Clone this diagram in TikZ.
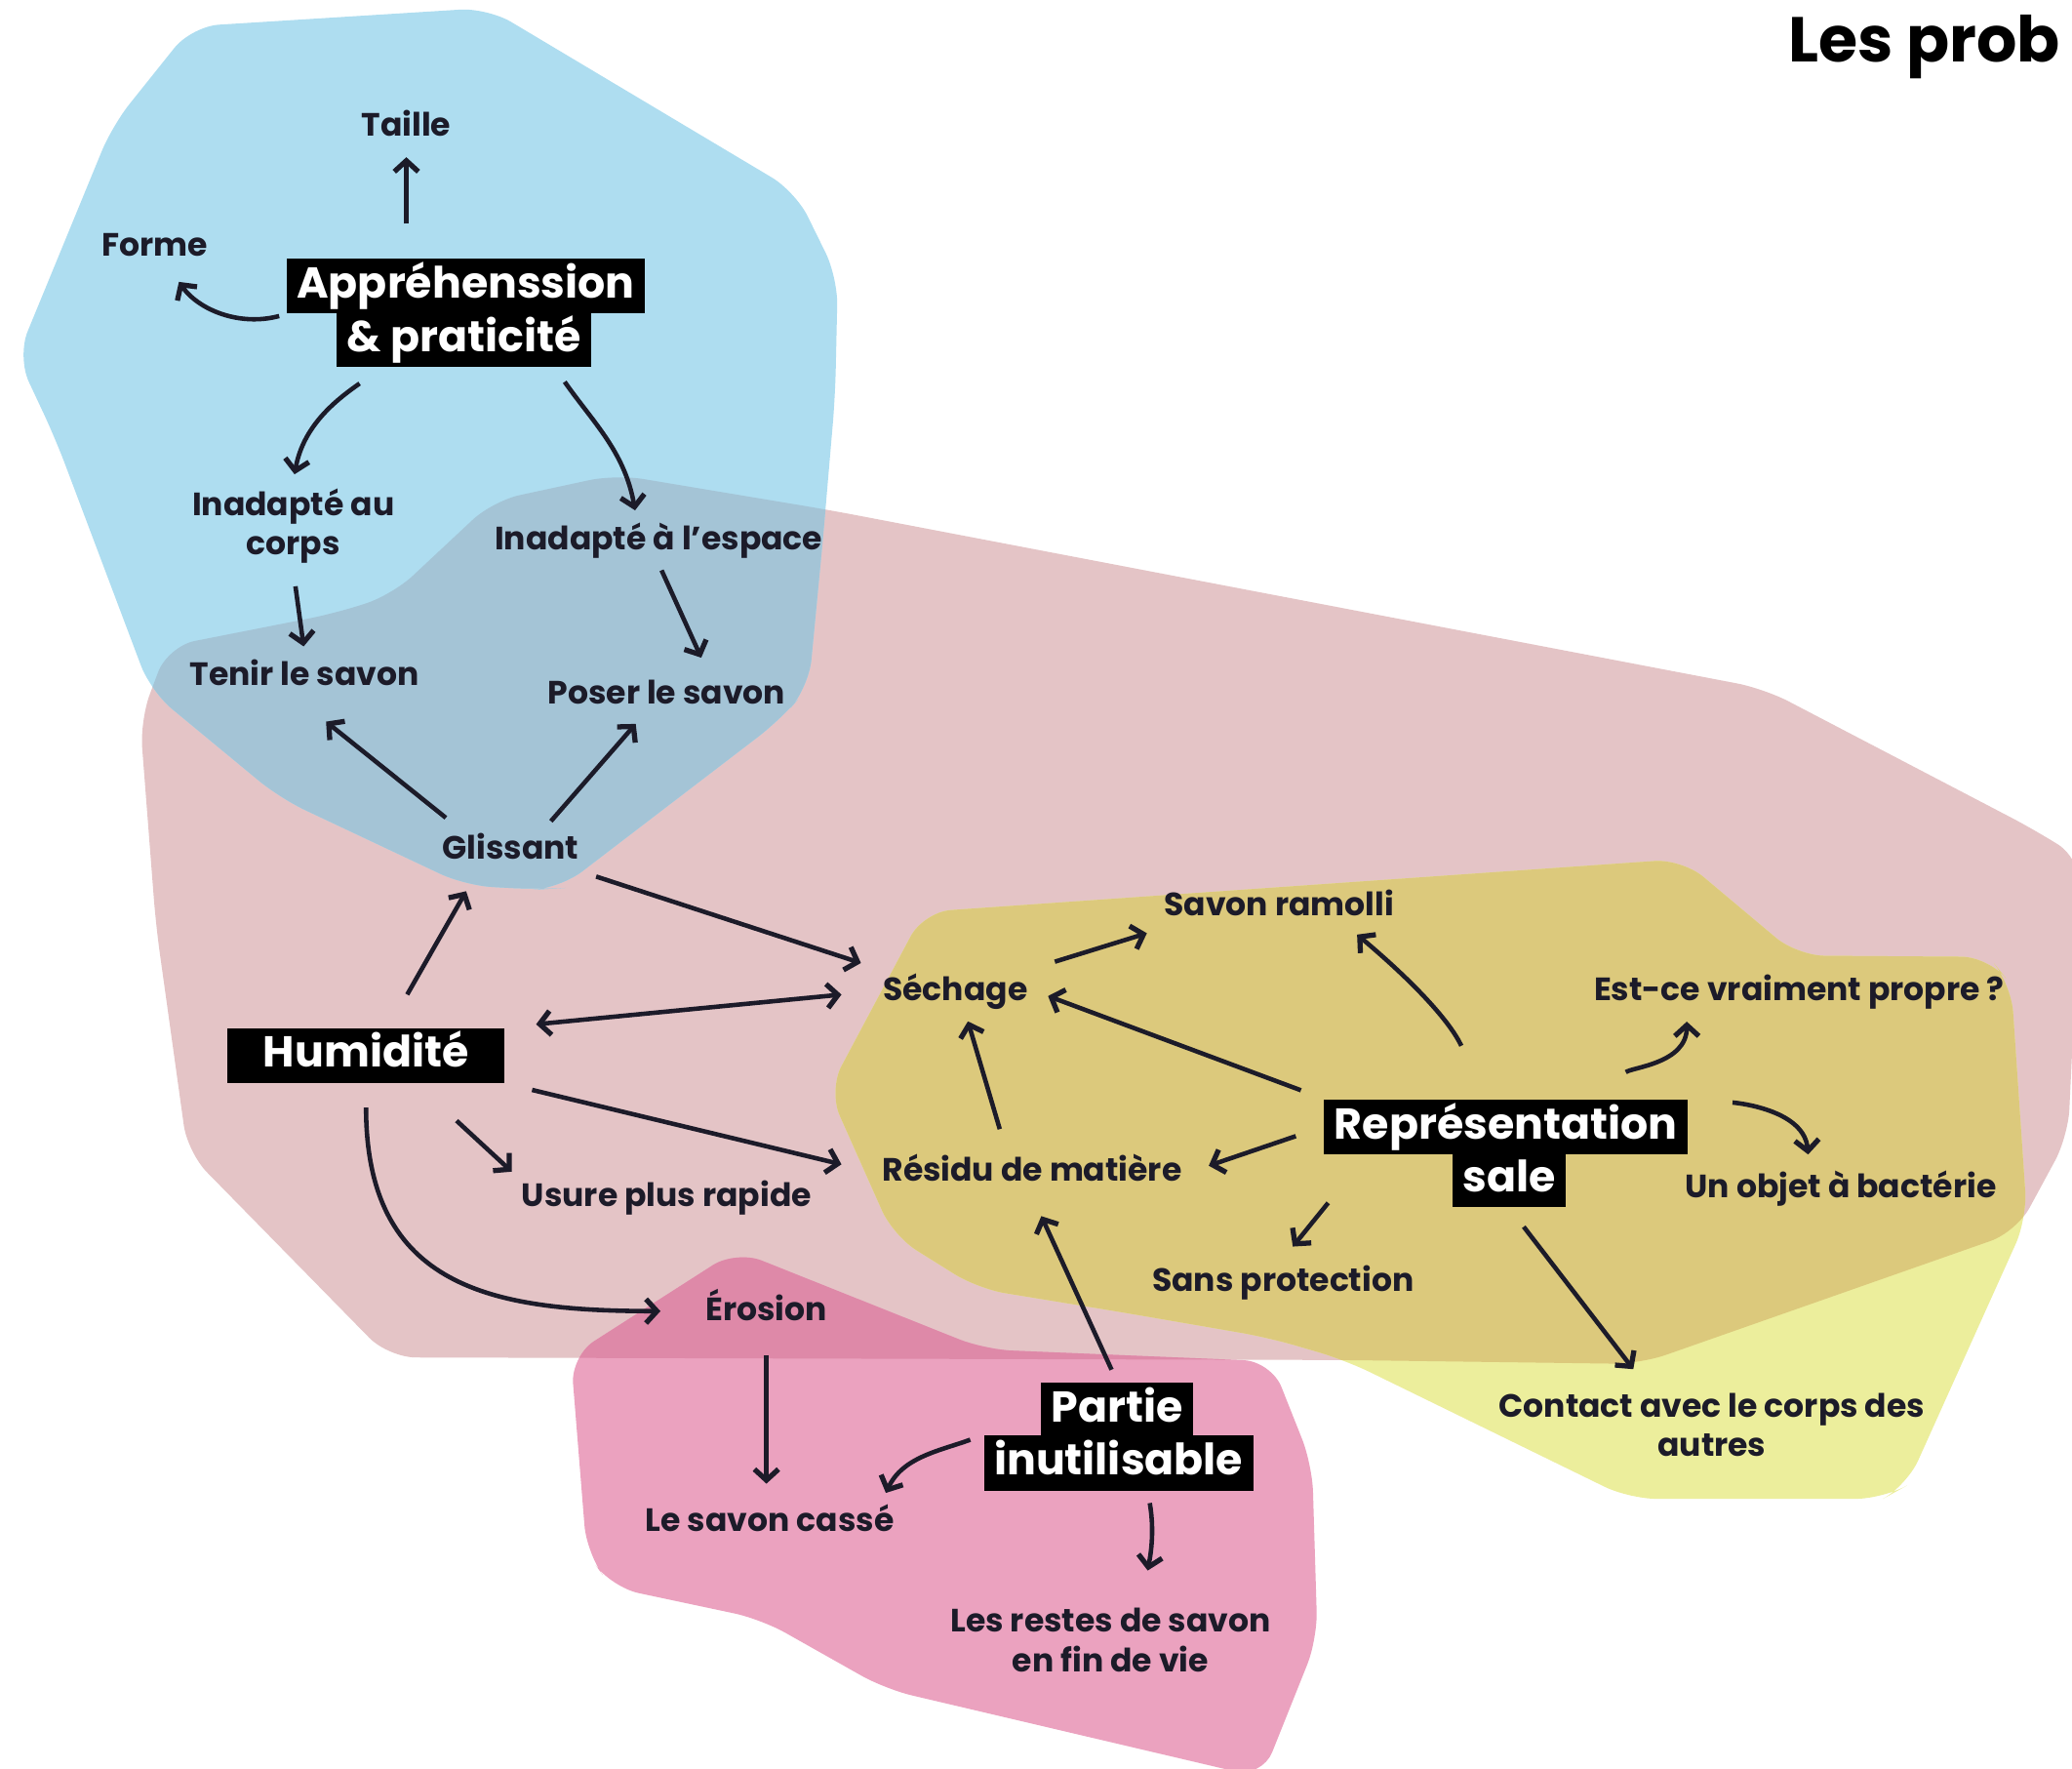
\documentclass[tikz,border=0pt]{standalone}
\usepackage{fontspec}
\setmainfont{Poppins}
\usetikzlibrary{arrows.meta,calc}
\definecolor{Ink}{HTML}{1C1B29}
\definecolor{Sky}{HTML}{AEDDF0}
\definecolor{SkyRose}{HTML}{A4C4D6}
\definecolor{Rose}{HTML}{E4C4C6}
\definecolor{Lemon}{HTML}{ECEE9C}
\definecolor{Khaki}{HTML}{DCC97C}
\definecolor{Fuchsia}{HTML}{EBA2BF}
\definecolor{FuchsiaRose}{HTML}{DE89A8}
% zones (one unit = one pixel of the sketch)
\newcommand\zoneblue{(145,1318) -- (369,1332) -- (602,1193) -- (634,1128) -- (632,1038) -- (623,933) -- (612,818) -- (590,793) -- (424,666) -- (407,665) -- (352,668) -- (212,734) -- (114,815) -- (42,1006) -- (13,1068) -- (85,1243) -- cycle}
\newcommand\zonepink{(106,793) -- (127,849) -- (254,874) -- (297,888) -- (373,959) -- (466,979) -- (628,952) -- (1335,817) -- (1540,710) -- (1575,688) -- (1565,478) -- (1526,406) -- (1241,306) -- (1018,309) -- (294,311) -- (142,466) -- (118,638) -- cycle}
\newcommand\zoneyellow{(699,648) -- (1273,688) -- (1360,615) -- (1505,614) -- (1522,593) -- (1534,416) -- (1443,214) -- (1425,204) -- (1233,204) -- (1018,309) -- (960,326) -- (850,345) -- (740,363) -- (676,403) -- (627,513) -- cycle}
\newcommand\zonemagenta{(557,392) -- (745,317) -- (962,308) -- (993,230) -- (997,98) -- (955,-7) -- (670,60) -- (576,113) -- (463,137) -- (444,163) -- (432,312) -- cycle}

\begin{document}
\begin{tikzpicture}[x=0.13546mm,y=0.13546mm,
    lbl/.style={font=\bfseries\fontsize{9.4}{11.5}\selectfont,text=Ink,inner sep=2pt,
      text height=7.3pt,text depth=2pt},
    lbl2/.style={font=\bfseries\fontsize{9.4}{11.5}\selectfont,text=Ink,inner sep=2pt,align=center},
    tag/.style={fill=black,text=white,font=\bfseries\fontsize{12.6}{15.8}\selectfont,
      inner xsep=3pt,inner ysep=1.5pt,text height=10pt,text depth=3pt},
    link/.style={draw=Ink,line width=1.3pt,-{Straight Barb[length=3.2pt,width=7pt,line width=1.5pt]},
      shorten <=2pt,shorten >=2pt},
    link2/.style={link,{Straight Barb[length=3.2pt,width=7pt,line width=1.5pt]}-{Straight Barb[length=3.2pt,width=7pt,line width=1.5pt]}}]
  \useasboundingbox (0,0) rectangle (1568,1338);
  \fill[white] (0,0) rectangle (1568,1338);

  \fill[Rose,rounded corners=8pt] \zonepink;
  \fill[Sky,rounded corners=8pt] \zoneblue;
  \fill[Lemon,rounded corners=8pt] \zoneyellow;
  \fill[Fuchsia,rounded corners=8pt] \zonemagenta;
  \begin{scope}
    \clip[rounded corners=8pt] \zonepink;
    \fill[SkyRose,rounded corners=8pt] \zoneblue;
    \fill[Khaki,rounded corners=8pt] \zoneyellow;
    \fill[FuchsiaRose,rounded corners=8pt] \zonemagenta;
  \end{scope}

  \node[font=\bfseries\fontsize{18.5}{22}\selectfont,inner sep=0pt,anchor=base west] (title) at (1353,1291) {Les prob};

  % appréhension
  \node[tag] (app1) at (352.5,1121.5) {Appréhenssion};
  \node[tag] (app2) at (351,1081) {\& praticité};
  \node[lbl] (taille) at (307.5,1242) {Taille};
  \node[lbl] (forme) at (117,1151) {Forme};
  \node[lbl2] (corps) at (222,940) {Inadapté au\\corps};
  \node[lbl] (espace) at (498.5,929) {Inadapté à l’espace};
  \node[lbl] (tenir) at (230.5,826) {Tenir le savon};
  \node[lbl] (poser) at (504.5,812) {Poser le savon};
  \node[lbl] (glissant) at (386.5,695) {Glissant};

  % humidité
  \node[tag,inner xsep=10.5pt] (humid) at (277,539.5) {Humidité};
  \node[lbl] (usure) at (504.5,432) {Usure plus rapide};
  \node[lbl] (erosion) at (580,346) {Érosion};

  % représentation sale
  \node[lbl] (sechage) at (723,588) {Séchage};
  \node[lbl] (ramolli) at (968,652) {Savon ramolli};
  \node[lbl] (propre) at (1361.5,588) {Est-ce vraiment propre~?};
  \node[tag] (rep1) at (1139.5,485.5) {Représentation};
  \node[tag] (rep2) at (1142,445.5) {sale};
  \node[lbl] (residu) at (781,451) {Résidu de matière};
  \node[lbl] (bacterie) at (1393,439) {Un objet à bactérie};
  \node[lbl] (sans) at (971,368) {Sans protection};
  \node[lbl2] (contact) at (1295.5,260) {Contact avec le corps des\\autres};

  % partie inutilisable
  \node[tag] (partie1) at (845.5,271) {Partie};
  \node[tag] (partie2) at (846.5,231) {inutilisable};
  \node[lbl] (casse) at (582.5,186) {Le savon cassé};
  \node[lbl2] (restes) at (840.5,97) {Les restes de savon\\en fin de vie};

  % liens
  \draw[link,shorten <=10pt] (app1.north -| taille) -- (taille);
  \draw[link,shorten >=4pt] (app1.south west) to[out=195,in=-55] (forme);
  \draw[link,shorten <=8pt] ($(app2.south west)+(35,0)$) to[out=215,in=80] (corps.north);
  \draw[link,shorten <=5pt] ($(app2.south east)+(-28,0)$) to[out=-55,in=100] ($(espace.north)+(-17,0)$);
  \draw[link,shorten <=4.5pt] (corps.south) -- (tenir.north);
  \draw[link,shorten >=4.5pt] (espace.south) -- ($(poser.north)+(31,0)$);
  \draw[link,shorten <=4pt,shorten >=10pt] ($(glissant.north)+(-41,0)$) -- ($(tenir.south)+(-4,0)$);
  \draw[link] ($(glissant.north)+(27,0)$) -- ($(poser.south)+(-20,0)$);
  \draw[link,shorten <=11pt,shorten >=6pt] ($(humid.north)+(17,0)$) -- ($(glissant.south)+(-26,0)$);
  \draw[link,shorten <=3pt,shorten >=4.5pt] (glissant.south east) -- (sechage.north west);
  \draw[link2,shorten <=9pt,shorten >=10pt] (humid.north east) -- (sechage.west);
  \draw[link,shorten <=8pt,shorten >=10pt] (humid.south east) -- (residu.west);
  \draw[link,shorten <=16pt,shorten >=1pt] ($(humid.south)+(38,0)$) -- (usure.north west);
  \draw[link,shorten <=7pt,shorten >=11pt] (humid.south) to[out=-90,in=180,looseness=1.3] (erosion.west);
  \draw[link,shorten <=6pt,shorten >=3pt] (sechage.north east) -- (ramolli.south west);
  \draw[link,shorten <=17pt] ($(rep1.north)+(-15,0)$) to[out=115,in=-40] ($(ramolli.south)+(55,0)$);
  \draw[link,shorten <=7pt,shorten >=4pt] (rep1.north west) -- (sechage.east);
  \draw[link,shorten <=12pt] ($(rep1.north)+(67,0)$) to[out=40,in=-90] ($(propre.south)+(-85,0)$);
  \draw[link,shorten <=13pt,shorten >=3pt] (rep1.north east) to[out=-5,in=95] ($(bacterie.north)+(-24,0)$);
  \draw[link,shorten <=8.5pt,shorten >=6pt] (rep1.west) -- (residu.east);
  \draw[link,shorten <=6pt] ($(residu.north)+(-20,0)$) -- ($(sechage.south)+(8,0)$);
  \draw[link,shorten <=18pt,shorten >=4.5pt] ($(rep1.south west)+(33,0)$) -- (sans.north);
  \draw[link,shorten <=7pt,shorten >=6pt] (rep2.south) -- ($(contact.north)+(-50,0)$);
  \draw[link,shorten <=4pt,shorten >=6.5pt] (partie1.north) -- (residu.south);
  \draw[link,shorten <=6pt,shorten >=4.5pt] (erosion.south) -- (erosion.south |- casse.north);
  \draw[link,shorten <=4pt] (partie2.north west) to[out=200,in=65] ($(casse.north east)+(-14,0)$);
  \draw[link,shorten <=3.5pt,shorten >=9pt] ($(partie2.south)+(22,0)$) to[out=-80,in=80] ($(restes.north)+(24,0)$);
\end{tikzpicture}
\end{document}
